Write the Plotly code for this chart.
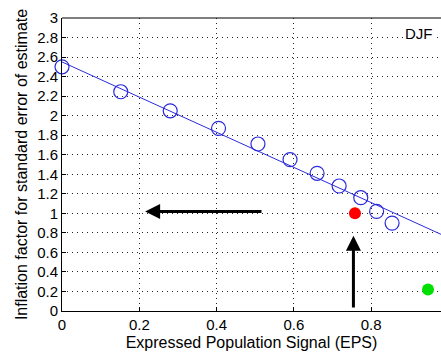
import plotly.graph_objects as go

# EPS sample points and the inflation factor for each
eps = [0.0, 0.152, 0.28, 0.405, 0.507, 0.59, 0.66, 0.717, 0.773, 0.814, 0.854]
inflation = [2.50, 2.245, 2.05, 1.87, 1.71, 1.55, 1.41, 1.28, 1.16, 1.02, 0.90]

# fitted line endpoints
fit_x = [0.0, 1.0]
fit_y = [2.55, 0.75]

# highlighted points
red_x, red_y = [0.758], [1.00]
green_x, green_y = [0.947], [0.22]

# arrows: (tail_x, tail_y, head_x, head_y)
h_arrow = [0.52, 1.02, 0.215, 1.02]
v_arrow = [0.754, 0.02, 0.754, 0.77]

x_ticks = [0, 0.2, 0.4, 0.6, 0.8, 1.0]
y_ticks = [0, 0.2, 0.4, 0.6, 0.8, 1, 1.2, 1.4, 1.6, 1.8, 2, 2.2, 2.4, 2.6, 2.8, 3]

blue = "#2b2bdc"
font = "Liberation Sans, Arial, sans-serif"

fig = go.Figure()
fig.add_trace(go.Scatter(x=fit_x, y=fit_y, mode="lines",
                         line=dict(color=blue, width=1), cliponaxis=True))
fig.add_trace(go.Scatter(x=eps, y=inflation, mode="markers",
                         marker=dict(symbol="circle-open", size=14,
                                     color=blue, line=dict(width=1.2, color=blue)),
                         cliponaxis=False))
fig.add_trace(go.Scatter(x=red_x, y=red_y, mode="markers",
                         marker=dict(size=12, color="#ff0000")))
fig.add_trace(go.Scatter(x=green_x, y=green_y, mode="markers",
                         marker=dict(size=12, color="#00e000")))

for tx, ty, hx, hy in (h_arrow, v_arrow):
    fig.add_annotation(x=hx, y=hy, ax=tx, ay=ty, xref="x", yref="y",
                       axref="x", ayref="y", text="", showarrow=True,
                       arrowhead=2, arrowsize=1, arrowwidth=3,
                       arrowcolor="black")

fig.add_annotation(x=0.985, y=0.948, xref="paper", yref="paper", text="DJF",
                   showarrow=False, xanchor="right", yanchor="middle",
                   bgcolor="white",
                   font=dict(size=15, color="black", family=font))

# top frame edge
fig.add_shape(type="line", xref="paper", yref="paper", x0=0, x1=1, y0=1, y1=1,
              line=dict(color="black", width=1))

fig.update_xaxes(range=[0, 0.9806], tickvals=x_ticks,
                 ticktext=["0", "0.2", "0.4", "0.6", "0.8", "1"],
                 showline=True, linecolor="black", linewidth=1,
                 ticks="inside", ticklen=4, tickcolor="black",
                 showgrid=True, gridcolor="#222222", griddash="1px,4px", gridwidth=1,
                 zeroline=False,
                 tickfont=dict(size=15, color="black", family=font),
                 title=dict(text="Expressed Population Signal (EPS)",
                            font=dict(size=16, color="black", family=font),
                            standoff=4))
fig.update_yaxes(range=[0, 3], tickvals=y_ticks,
                 ticktext=[("%g" % v) for v in y_ticks],
                 showline=True, linecolor="black", linewidth=1,
                 ticks="inside", ticklen=4, tickcolor="black",
                 showgrid=True, gridcolor="#222222", griddash="1px,4px", gridwidth=1,
                 zeroline=False,
                 tickfont=dict(size=15, color="black", family=font),
                 title=dict(text="Inflation factor for standard error of estimate",
                            font=dict(size=16, color="black", family=font),
                            standoff=5))

fig.update_layout(width=441, height=356, showlegend=False,
                  margin=dict(l=62, r=0, t=18, b=45),
                  paper_bgcolor="white", plot_bgcolor="white")

fig.write_html("out.html")
